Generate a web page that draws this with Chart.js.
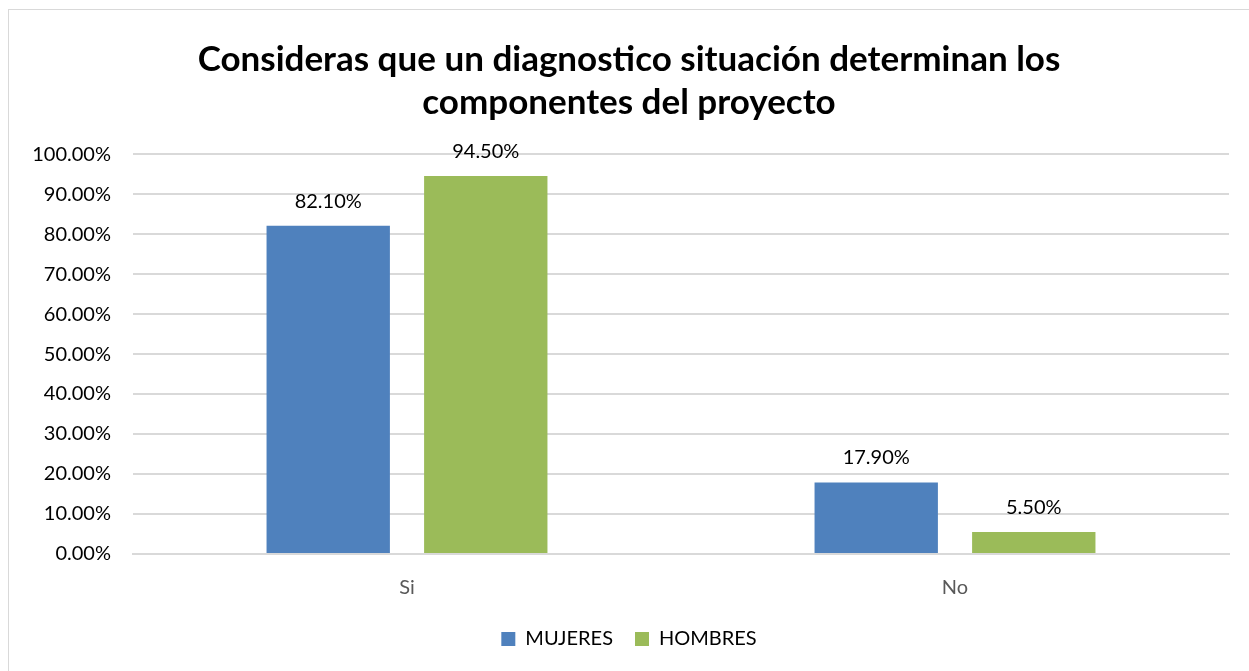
<!DOCTYPE html>
<html>
<head>
<meta charset="utf-8">
<script src="https://cdn.jsdelivr.net/npm/chart.js@4"></script>
<style>
  html, body { margin:0; padding:0; background:#fff; overflow:hidden; }
  #box { position:absolute; left:8px; top:9px; width:1260px; height:680px;
         border-left:1px solid #d9d9d9; border-top:1px solid #d9d9d9; }
  #wrap { position:absolute; left:0; top:0; width:1240px; height:661px; }
</style>
</head>
<body>
<div id="box"><div id="wrap"><canvas id="chart1"></canvas></div></div>
<script>
let categorias = ["Si", "No"];
let mujeres = [82.1, 17.9];
let hombres = [94.5, 5.5];
let titulo = ["Consideras que un diagnostico situación determinan los", "componentes del proyecto"];

let fuente = "Lato, 'Open Sans', sans-serif";

// etiquetas encima de cada barra
let etiquetas = {
  id: "etiquetas",
  afterDatasetsDraw(chart){
    let ctx = chart.ctx;
    ctx.save();
    ctx.font = "20px " + fuente;
    ctx.fillStyle = "#000";
    ctx.textAlign = "center";
    ctx.textBaseline = "alphabetic";
    chart.data.datasets.forEach((ds, i)=>{
      chart.getDatasetMeta(i).data.forEach((bar, j)=>{
        ctx.fillText(ds.data[j].toFixed(2) + "%", bar.x, bar.y - 18);
      });
    });
    ctx.restore();
  }
};

let chart1 = new Chart(document.getElementById("chart1"), {
  type: "bar",
  data: {
    labels: categorias,
    datasets: [
      {label: "MUJERES", data: mujeres, backgroundColor: "#4f81bd",
       categoryPercentage: 0.575, barPercentage: 0.783},
      {label: "HOMBRES", data: hombres, backgroundColor: "#9bbb59",
       categoryPercentage: 0.575, barPercentage: 0.783}
    ]
  },
  options: {
    responsive: true,
    maintainAspectRatio: false,
    animation: false,
    layout: {padding: {left: 0, right: 0, top: 0, bottom: 12}},
    plugins: {
      title: {
        display: true,
        text: titulo,
        color: "#000",
        font: {family: fuente, size: 35, weight: "bold", lineHeight: 1.23},
        padding: {top: 28, bottom: 30}
      },
      legend: {
        position: "bottom",
        labels: {
          color: "#000",
          font: {family: fuente, size: 20},
          boxWidth: 14, boxHeight: 14, padding: 22
        }
      },
      tooltip: {enabled: false}
    },
    scales: {
      x: {
        grid: {display: false},
        border: {color: "#d9d9d9", width: 2},
        ticks: {color: "#595959", font: {family: fuente, size: 20}, padding: 14},
        afterFit(scale){ scale.height = scale.height - 7; }
      },
      y: {
        min: 0, max: 100,
        border: {display: false},
        grid: {color: "#d9d9d9", lineWidth: 2, drawTicks: false},
        ticks: {
          stepSize: 10, color: "#000", padding: 22,
          font: {family: fuente, size: 20},
          callback: v => v.toFixed(2) + "%"
        },
        afterFit(scale){ scale.width = 124; }
      },
      derecha: {
        position: "right",
        grid: {display: false},
        border: {display: false},
        ticks: {display: false},
        afterFit(scale){ scale.width = 20; }
      }
    }
  },
  plugins: [etiquetas]
});
</script>
</body>
</html>
